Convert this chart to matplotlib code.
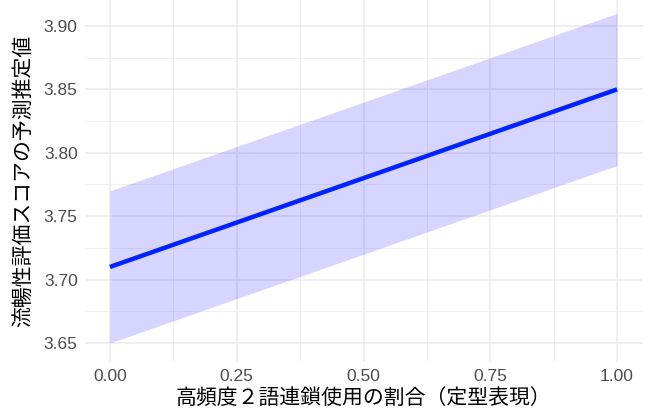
import matplotlib
matplotlib.use("Agg")
import matplotlib.pyplot as plt
from matplotlib.ticker import MultipleLocator

plt.rcParams['font.family'] = ['Liberation Sans', 'Noto Sans CJK JP', 'DejaVu Sans']

# prediction line and band
share = [0.0, 1.0]
fit = [3.71, 3.85]
lower = [3.65, 3.79]
upper = [3.77, 3.91]

x_ticks = [0.0, 0.25, 0.5, 0.75, 1.0]
y_ticks = [3.65, 3.70, 3.75, 3.80, 3.85, 3.90]

fig = plt.figure(figsize=(6.51, 4.08), dpi=100)
ax = fig.add_axes([0.130, 0.1127, 0.8573, 0.8873])

ax.fill_between(share, lower, upper, color='#0000FF', alpha=0.165, linewidth=0, zorder=2)
ax.plot(share, fit, color='#0022FF', linewidth=3.2, solid_capstyle='butt', zorder=3)

ax.set_xlim(-0.05, 1.0507)
ax.set_ylim(3.635, 3.9205)
ax.set_xticks(x_ticks)
ax.set_xticklabels([f'{v:.2f}' for v in x_ticks])
ax.set_yticks(y_ticks)
ax.set_yticklabels([f'{v:.2f}' for v in y_ticks])
ax.xaxis.set_minor_locator(MultipleLocator(0.125))
ax.yaxis.set_minor_locator(MultipleLocator(0.025))

ax.grid(which='major', color='#EBEBEB', linewidth=1.1, zorder=0)
ax.grid(which='minor', color='#EFEFEF', linewidth=0.6, zorder=0)
ax.set_axisbelow(True)
for s in ax.spines.values():
    s.set_visible(False)
ax.tick_params(which='both', length=0, labelsize=12.5, labelcolor='#4D4D4D', pad=5)

cjk = ['Noto Sans CJK JP', 'DejaVu Sans']
ax.set_xlabel('高頻度２語連鎖使用の割合（定型表現）', fontsize=15, family=cjk, labelpad=2)
ax.set_ylabel('流暢性評価スコアの予測推定値', fontsize=15, family=cjk, labelpad=7)

fig.savefig('out.png', dpi=100, facecolor='white')
